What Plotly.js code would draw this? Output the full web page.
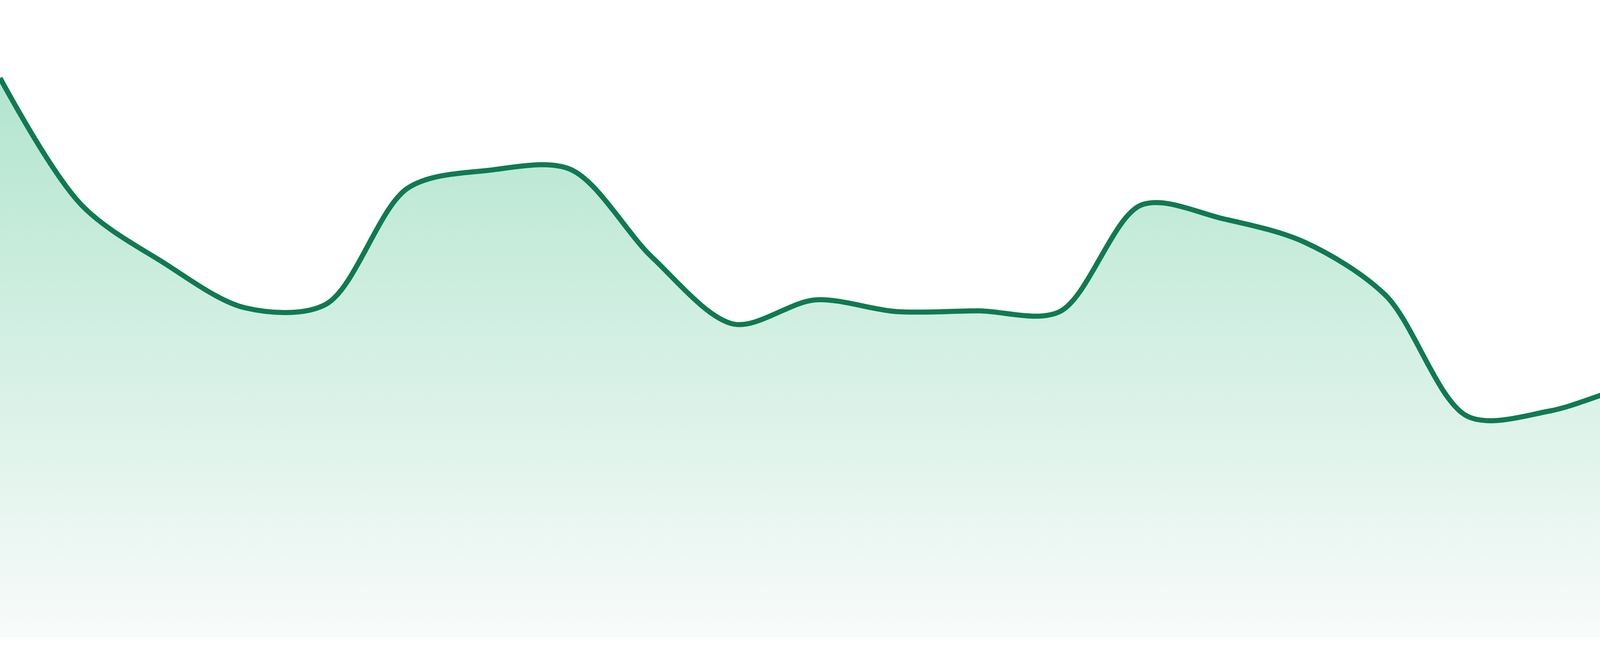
<!DOCTYPE html>
<html>
<head>
<meta charset="utf-8">
<script src="https://cdn.plot.ly/plotly-3.0.1.min.js"></script>
<style>
  html, body { margin: 0; padding: 0; background: #fff; }
  #chart { width: 4800px; height: 1680px; }
</style>
</head>
<body>
<div id="chart"></div>
<script>
/* global Plotly */
const DAYS = [1, 2, 3, 4, 5, 6, 7, 8, 9, 10, 11, 12, 13, 14, 15, 16, 17, 18, 19, 20, 21, 22, 23, 24];
const VALUES = [143.2, 110.7, 96.0, 84.4, 85.3, 115.0, 119.6, 119.8, 97.3, 80.2, 86.4, 83.4,
  83.6, 83.4, 110.7, 107.2, 101.2, 87.5, 56.6, 57.9, 64.4, 68.7, 77.8, 64.4];

const LINE_COLOR = '#107a52';
const FILL_TOP = '#b2e5cf';
const FILL_BOTTOM = '#f8fbfa';
const Y_MAX = 163.2;

const trace = {
  x: DAYS,
  y: VALUES,
  type: 'scatter',
  mode: 'lines',
  line: { color: LINE_COLOR, width: 13, shape: 'spline', smoothing: 0.9 },
  fill: 'tozeroy',
  fillgradient: {
    type: 'vertical',
    start: 0,
    stop: Math.max(...VALUES),
    colorscale: [[0, FILL_BOTTOM], [1, FILL_TOP]]
  },
  hoverinfo: 'skip'
};

const layout = {
  width: 4800,
  height: 1680,
  margin: { l: 0, r: 0, t: 0, b: 48 },
  paper_bgcolor: '#ffffff',
  plot_bgcolor: '#ffffff',
  showlegend: false,
  xaxis: {
    range: [DAYS[0], DAYS[DAYS.length - 1]],
    visible: false,
    fixedrange: true
  },
  yaxis: {
    range: [0, Y_MAX],
    visible: false,
    fixedrange: true
  }
};

Plotly.newPlot('chart', [trace], layout, { staticPlot: true, displayModeBar: false });
</script>
</body>
</html>
